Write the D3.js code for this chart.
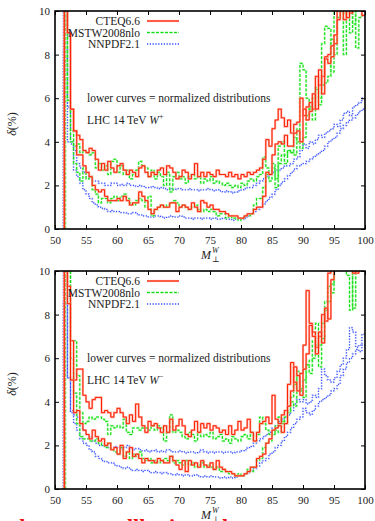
<!DOCTYPE html>
<html>
<head>
<meta charset="utf-8">
<script src="https://cdn.jsdelivr.net/npm/d3@7"></script>
<style>
html, body { margin: 0; padding: 0; background: #fff; }
svg { display: block; }
svg text { font-family: "Liberation Serif", "Times New Roman", "DejaVu Serif", "Noto Serif", serif !important; fill: #222; }
</style>
</head>
<body>
<svg width="375" height="521"></svg>
<script>
// bins are 0.5 GeV wide, first bin starts at 51.5 GeV
const binStart = 51.5;
const binWidth = 0.5;
const xTicks = [50, 55, 60, 65, 70, 75, 80, 85, 90, 95, 100];
const yTicks = [0, 2, 4, 6, 8, 10];
const pdfNames = ["CTEQ6.6", "MSTW2008nlo", "NNPDF2.1"];

// ---- W+ ----
const wpCteqUpper = [
  12, 9.0, 5.5, 4.5, 4.3, 4.1, 3.6, 3.5, 3.7, 3.6,
  3.2, 2.7, 3.0, 2.7, 3.1, 2.8, 2.6, 2.9, 3.0, 2.7,
  2.5, 2.7, 2.6, 2.4, 2.8, 2.9, 2.6, 2.4, 2.6, 2.5,
  2.7, 2.8, 2.5, 2.9, 2.8, 2.6, 2.3, 2.4, 2.7, 2.6,
  2.3, 2.5, 3.0, 2.4, 2.6, 2.4, 2.6, 2.5, 2.4, 2.7,
  2.5, 2.5, 2.4, 2.6, 2.4, 2.5, 2.3, 2.5, 2.4, 2.6,
  2.5, 2.6, 2.7, 2.8, 3.2, 4.1, 3.8, 4.6, 5.0, 5.5,
  5.1, 4.7, 5.0, 4.4, 4.8, 4.9, 6.0, 5.2, 5.6, 5.8,
  5.5, 7.0, 6.6, 7.0, 7.8, 7.6, 7.9, 8.5, 10.3, 10.5,
  9.6, 10.4, 9.9, 10.4, 10.2, 10.4, 9.8
];
const wpCteqLower = [
  12, 9.0, 5.5, 4.5, 3.4, 3.4, 2.9, 2.6, 2.4, 2.0,
  1.8, 1.7, 1.8, 1.5, 1.3, 1.3, 1.3, 1.4, 1.3, 1.5,
  1.3, 1.1, 1.2, 1.2, 1.7, 1.5, 1.3, 0.9, 0.7, 0.9,
  1.0, 1.1, 1.0, 1.0, 1.2, 1.2, 0.8, 1.0, 1.1, 1.0,
  0.9, 1.2, 1.0, 0.8, 1.3, 1.2, 1.0, 1.1, 0.9, 0.9,
  0.8, 0.8, 0.7, 0.6, 0.6, 0.6, 0.5, 0.5, 0.6, 0.7,
  0.7, 0.9, 1.0, 1.0, 1.5, 2.6, 2.5, 3.4, 3.9, 4.0,
  3.9, 4.3, 3.8, 3.8, 4.4, 4.5, 4.0, 5.5, 5.0, 5.4,
  6.2, 5.5, 7.3, 6.2, 7.9, 8.0, 8.4, 8.9, 9.6, 10.5,
  10.3, 9.7, 10.5, 10.4, 10.5, 10.3, 10.4
];
const wpMstwUpper = [
  12, 5.9, 4.5, 3.8, 3.9, 3.5, 3.6, 3.5, 3.4, 3.5,
  2.8, 3.0, 2.7, 2.9, 2.5, 3.1, 3.2, 2.6, 2.9, 2.5,
  2.7, 2.3, 2.5, 2.7, 3.1, 2.9, 2.8, 2.4, 2.7, 2.3,
  2.6, 2.4, 2.0, 2.6, 1.7, 2.4, 2.6, 2.3, 2.4, 2.1,
  2.4, 2.5, 2.3, 2.4, 2.1, 2.3, 2.2, 2.4, 2.1, 2.2,
  2.1, 2.0, 2.1, 2.0, 1.9, 2.0, 1.9, 2.1, 2.0, 2.2,
  2.3, 2.2, 2.4, 2.5, 3.3, 2.8, 2.6, 3.0, 1.9, 3.8,
  4.0, 3.4, 3.6, 3.5, 4.2, 4.0, 7.6, 7.3, 6.0, 5.5,
  6.0, 6.4, 6.0, 8.5, 9.3, 9.2, 7.2, 10.4, 10.5, 10.3,
  8.0, 10.2, 9.0, 10.1, 8.3, 9.7, 10.4
];
const wpMstwLower = [
  12, 5.9, 4.0, 3.0, 2.6, 2.2, 2.8, 2.3, 2.4, 1.8,
  1.6, 1.2, 1.4, 1.4, 1.2, 1.4, 1.5, 1.3, 1.5, 1.6,
  1.4, 1.2, 1.1, 1.3, 1.4, 1.3, 1.0, 1.5, 0.6, 0.9,
  1.0, 1.1, 1.0, 1.1, 1.2, 1.3, 1.2, 1.0, 1.1, 1.0,
  0.9, 1.0, 1.1, 0.9, 0.8, 0.9, 0.8, 0.9, 0.8, 0.6,
  0.7, 0.7, 0.5, 0.6, 0.5, 0.5, 0.4, 0.5, 0.6, 0.6,
  0.7, 1.1, 1.4, 1.4, 1.9, 2.5, 2.2, 2.8, 2.3, 3.0,
  3.4, 3.0, 3.6, 3.5, 3.4, 4.6, 3.7, 4.2, 5.2, 5.6,
  5.0, 6.5, 5.7, 6.6, 6.7, 7.0, 8.7, 8.0, 9.7, 10.4,
  9.9, 10.3, 10.4, 9.4, 10.3, 10.4, 10.5
];
const wpNnpdfUpper = [
  12, 5.6, 4.0, 3.6, 3.0, 2.8, 2.6, 2.4, 2.3, 2.2,
  2.2, 2.1, 2.1, 2.0, 2.0, 2.1, 2.1, 2.0, 2.05, 2.0,
  2.1, 2.0, 2.0, 1.95, 2.0, 1.95, 1.9, 1.9, 1.95, 1.9,
  1.85, 1.9, 1.85, 1.8, 1.85, 1.8, 1.85, 1.85, 1.8, 1.8,
  1.85, 1.8, 1.8, 1.75, 1.8, 1.8, 1.85, 1.8, 1.75, 1.8,
  1.75, 1.7, 1.75, 1.7, 1.65, 1.7, 1.75, 1.8, 1.85, 1.9,
  1.9, 2.0, 2.1, 2.2, 2.3, 2.4, 2.5, 2.6, 2.7, 2.7,
  2.8, 2.9, 2.9, 3.0, 3.2, 3.3, 3.6, 3.9, 3.7, 4.0,
  3.9, 4.1, 4.3, 4.2, 4.4, 4.5, 4.6, 4.8, 4.7, 5.0,
  5.3, 5.4, 5.2, 5.6, 5.7, 5.8, 6.0
];
const wpNnpdfLower = [
  8.2, 4.0, 3.9, 2.7, 2.4, 2.1, 1.8, 1.6, 1.4, 1.2,
  1.1, 1.0, 0.95, 0.9, 0.8, 0.85, 0.8, 0.8, 0.75, 0.75,
  0.7, 0.7, 0.75, 0.7, 0.65, 0.6, 0.6, 0.55, 0.55, 0.6,
  0.6, 0.55, 0.5, 0.55, 0.6, 0.55, 0.55, 0.6, 0.55, 0.5,
  0.5, 0.45, 0.5, 0.5, 0.45, 0.5, 0.5, 0.45, 0.5, 0.45,
  0.45, 0.5, 0.45, 0.45, 0.4, 0.45, 0.45, 0.45, 0.5, 0.6,
  0.7, 0.8, 0.9, 1.0, 1.15, 1.3, 1.45, 1.6, 1.8, 2.0,
  2.15, 2.3, 2.45, 2.6, 2.75, 2.9, 2.95, 3.0, 3.1, 3.2,
  3.3, 3.4, 3.5, 3.6, 3.8, 4.0, 4.1, 4.2, 4.4, 4.6,
  4.75, 4.9, 5.0, 5.1, 5.25, 5.4, 5.5
];

// ---- W- ----
const wmCteqUpper = [
  12, 9.3, 6.8, 5.0, 5.5, 5.5, 4.3, 4.0, 3.7, 4.1,
  4.2, 4.2, 3.5, 3.6, 3.5, 3.3, 3.5, 3.7, 3.5, 3.3,
  3.0, 3.4, 3.1, 3.9, 3.3, 2.9, 2.6, 3.1, 2.9, 3.0,
  2.8, 2.6, 2.9, 2.6, 3.2, 2.7, 2.9, 3.2, 2.9, 2.5,
  2.4, 2.7, 3.1, 2.6, 3.0, 2.8, 3.0, 2.7, 2.9, 2.8,
  2.6, 2.7, 2.5, 2.9, 2.5, 2.7, 3.1, 2.7, 2.8, 3.2,
  2.6, 2.2, 2.6, 3.0, 3.1, 3.3, 3.0, 4.3, 3.2, 3.0,
  3.4, 3.6, 4.8, 5.8, 4.9, 4.5, 5.3, 6.6, 9.1, 7.6,
  7.2, 6.5, 7.0, 8.0, 7.7, 9.9, 10.5, 10.5, 10.4, 10.6,
  10.3, 10.5, 10.4, 10.5, 9.9, 10.5, 10.4
];
const wmCteqLower = [
  12, 8.5, 5.0, 3.5, 3.6, 3.0, 2.7, 2.5, 2.3, 2.7,
  2.4, 2.2, 2.3, 2.0, 2.1, 1.8, 1.9, 1.6, 2.0, 1.4,
  1.7, 1.9, 1.5, 1.6, 1.4, 1.2, 1.4, 1.3, 1.3, 1.2,
  1.4, 1.3, 1.2, 1.2, 1.5, 1.3, 1.1, 0.9, 1.3, 0.8,
  1.3, 1.1, 1.2, 1.0, 1.3, 1.1, 1.0, 1.2, 0.9, 1.3,
  1.0, 0.9, 0.8, 0.8, 0.7, 0.6, 0.6, 0.6, 0.7, 0.8,
  1.0, 1.0, 1.4, 1.5, 1.6, 2.1, 2.3, 2.7, 2.8, 2.9,
  2.6, 3.0, 3.8, 4.5, 5.6, 5.2, 4.3, 5.5, 6.2, 7.5,
  7.0, 6.2, 7.2, 6.7, 8.3, 7.8, 9.6, 10.4, 10.5, 10.3,
  10.5, 10.4, 10.5, 9.9, 10.4, 10.5, 10.4
];
const wmMstwUpper = [
  12, 12, 6.8, 6.8, 5.2, 3.5, 3.0, 3.1, 3.3, 3.2,
  3.3, 3.3, 3.2, 3.1, 2.5, 2.9, 2.8, 2.9, 2.8, 3.2,
  2.6, 2.5, 2.8, 2.8, 2.7, 2.8, 2.8, 2.7, 2.9, 2.7,
  2.9, 2.8, 2.2, 2.6, 3.4, 2.6, 2.7, 2.6, 2.4, 2.3,
  2.6, 2.5, 2.2, 2.6, 2.4, 2.5, 2.4, 2.6, 2.3, 2.4,
  2.5, 2.2, 2.3, 2.1, 2.4, 2.3, 2.2, 2.4, 2.5, 2.3,
  2.6, 2.2, 2.5, 3.3, 3.0, 2.7, 2.5, 2.6, 2.9, 3.3,
  3.1, 3.0, 3.5, 4.2, 4.8, 5.2, 4.6, 5.0, 5.7, 5.9,
  6.8, 6.6, 5.6, 7.6, 8.6, 9.3, 9.0, 10.4, 10.5, 10.3,
  10.5, 9.8, 8.2, 10.4, 10.5, 10.3, 10.5
];
const wmMstwLower = [
  12, 12, 6.0, 4.4, 3.0, 2.4, 2.3, 2.3, 2.2, 2.2,
  2.3, 2.1, 2.0, 1.9, 2.1, 1.8, 1.7, 1.6, 1.9, 1.5,
  1.7, 1.4, 1.6, 1.5, 1.7, 1.4, 1.3, 1.4, 1.2, 1.3,
  1.2, 1.3, 1.4, 1.3, 1.5, 1.2, 1.3, 1.2, 1.1, 1.3,
  1.1, 1.2, 1.0, 1.1, 1.2, 1.0, 1.1, 1.0, 0.9, 1.0,
  0.8, 0.9, 0.8, 0.7, 0.7, 0.6, 0.7, 0.6, 0.7, 0.9,
  0.8, 1.0, 1.3, 1.4, 1.9, 2.1, 2.2, 2.5, 2.7, 2.6,
  3.0, 3.3, 3.6, 4.0, 3.8, 5.4, 4.5, 4.2, 5.7, 5.3,
  6.0, 7.6, 6.6, 6.9, 8.2, 8.6, 9.4, 10.4, 10.5, 10.2,
  10.4, 10.5, 10.3, 8.3, 10.4, 10.5, 10.4
];
const wmNnpdfUpper = [
  12, 5.1, 3.6, 3.4, 3.3, 2.9, 2.7, 2.5, 2.4, 2.2,
  2.1, 2.0, 2.0, 1.95, 1.9, 1.9, 1.95, 1.9, 1.85, 1.9,
  2.0, 1.85, 1.8, 1.85, 1.8, 1.75, 1.8, 1.7, 1.75, 1.8,
  1.7, 1.75, 1.7, 1.8, 1.75, 1.7, 1.7, 1.75, 1.7, 1.65,
  1.7, 1.7, 1.65, 1.7, 1.8, 1.7, 1.65, 1.7, 1.65, 1.7,
  1.7, 1.65, 1.7, 1.7, 1.65, 1.7, 1.7, 1.75, 1.8, 1.9,
  1.95, 2.1, 2.2, 2.3, 2.4, 2.5, 2.6, 2.8, 2.9, 3.1,
  3.2, 3.3, 3.4, 3.6, 3.9, 4.1, 4.0, 4.1, 3.9, 4.0,
  4.3, 4.2, 4.6, 5.5, 5.2, 5.0, 4.9, 5.1, 5.4, 5.7,
  6.0, 6.4, 7.4, 7.2, 6.5, 6.6, 7.1
];
const wmNnpdfLower = [
  8.5, 5.1, 3.5, 3.0, 2.7, 2.3, 2.1, 2.0, 1.8, 1.7,
  1.5, 1.4, 1.3, 1.25, 1.2, 1.2, 1.1, 1.05, 1.0, 0.95,
  1.0, 0.9, 0.85, 0.9, 0.85, 0.8, 0.85, 0.8, 0.75, 0.8,
  0.75, 0.7, 0.75, 0.7, 0.7, 0.65, 0.7, 0.65, 0.6, 0.65,
  0.6, 0.6, 0.65, 0.6, 0.55, 0.6, 0.55, 0.6, 0.55, 0.55,
  0.5, 0.55, 0.5, 0.55, 0.5, 0.55, 0.6, 0.6, 0.7, 0.75,
  0.85, 0.95, 1.05, 1.2, 1.3, 1.4, 1.6, 1.7, 1.9, 2.0,
  2.2, 2.4, 2.6, 2.8, 3.0, 3.2, 3.3, 3.7, 3.5, 3.4,
  3.6, 3.8, 4.0, 4.1, 4.2, 4.3, 4.5, 4.6, 4.8, 5.2,
  5.5, 5.8, 6.0, 6.2, 6.4, 6.3, 6.6
];

const styles = {
  "CTEQ6.6": { color: "#ff2000", halo: "#ff9a8c", dash: null, shift: 0 },
  "MSTW2008nlo": { color: "#10dd10", halo: "#9af59a", dash: "3,1.5", shift: 0.15 },
  "NNPDF2.1": { color: "#2a44ff", halo: "#a8b4ff", dash: "1.2,1.6", shift: -0.15 }
};

const panels = [
  { top: 11, charge: "+", series: [
    ["NNPDF2.1", wpNnpdfUpper], ["NNPDF2.1", wpNnpdfLower],
    ["MSTW2008nlo", wpMstwUpper], ["MSTW2008nlo", wpMstwLower],
    ["CTEQ6.6", wpCteqUpper], ["CTEQ6.6", wpCteqLower]] },
  { top: 271, charge: "\u2212", series: [
    ["NNPDF2.1", wmNnpdfUpper], ["NNPDF2.1", wmNnpdfLower],
    ["MSTW2008nlo", wmMstwUpper], ["MSTW2008nlo", wmMstwLower],
    ["CTEQ6.6", wmCteqUpper], ["CTEQ6.6", wmCteqLower]] }
];

const svg = d3.select("svg");
const left = 55, right = 365, plotH = 218;
const x = d3.scaleLinear().domain([50, 100]).range([left, right]);
const serif = "Liberation Serif, Times New Roman, DejaVu Serif, serif";

panels.forEach((p, pi) => {
  const bottom = p.top + plotH;
  const y = d3.scaleLinear().domain([0, 10]).range([bottom, p.top]);
  const g = svg.append("g");

  const clipId = "clip" + pi;
  g.append("clipPath").attr("id", clipId)
    .append("rect").attr("x", left).attr("y", p.top)
    .attr("width", right - left).attr("height", plotH);

  const line = d3.line()
    .x(d => x(d[0]))
    .y(d => y(d[1]))
    .curve(d3.curveStepAfter);

  const curves = g.append("g").attr("clip-path", `url(#${clipId})`);
  p.series.forEach(([name, vals]) => {
    const s = styles[name];
    // the first edge of each set sits a little apart so the rising lines show side by side
    const pts = [[binStart + s.shift, 0], [binStart + s.shift, vals[0]]].concat(
      vals.slice(1).map((v, i) => [binStart + (i + 1) * binWidth, v]),
      [[100, vals[vals.length - 1]]]);
    curves.append("path").attr("d", line(pts))
      .attr("fill", "none").attr("stroke", s.halo)
      .attr("stroke-width", 2.2).attr("stroke-opacity", 0.75)
      .attr("stroke-dasharray", s.dash);
    curves.append("path").attr("d", line(pts))
      .attr("fill", "none").attr("stroke", s.color)
      .attr("stroke-width", 1)
      .attr("stroke-dasharray", s.dash);
  });

  // axes with inward ticks on all sides
  const styleAxis = sel => {
    sel.attr("font-size", 11).attr("font-family", serif);
    sel.select(".domain").remove();
    sel.selectAll(".tick line").attr("stroke", "#000").attr("stroke-width", 1);
    sel.selectAll(".tick text").attr("fill", "#222");
  };
  g.append("g").attr("transform", `translate(0,${bottom})`)
    .call(d3.axisBottom(x).tickValues(xTicks).tickSize(-4).tickPadding(7))
    .call(styleAxis);
  g.append("g").attr("transform", `translate(0,${p.top})`)
    .call(d3.axisTop(x).tickValues(xTicks).tickSize(-4).tickFormat(""))
    .call(styleAxis);
  g.append("g").attr("transform", `translate(${left},0)`)
    .call(d3.axisLeft(y).tickValues(yTicks).tickSize(-4).tickPadding(5))
    .call(styleAxis);
  g.append("g").attr("transform", `translate(${right},0)`)
    .call(d3.axisRight(y).tickValues(yTicks).tickSize(-4).tickFormat(""))
    .call(styleAxis);

  g.append("rect").attr("x", left).attr("y", p.top)
    .attr("width", right - left).attr("height", plotH)
    .attr("fill", "none").attr("stroke", "#000").attr("stroke-width", 1.6);

  // legend
  pdfNames.forEach((name, i) => {
    const ly = p.top + 10 + i * 11.5;
    const s = styles[name];
    g.append("text").attr("x", 140).attr("y", ly + 4)
      .attr("text-anchor", "end").attr("font-size", 11.5).text(name);
    g.append("line").attr("x1", 147).attr("x2", 179).attr("y1", ly).attr("y2", ly)
      .attr("stroke", s.halo).attr("stroke-width", 2.2).attr("stroke-dasharray", s.dash);
    g.append("line").attr("x1", 147).attr("x2", 179).attr("y1", ly).attr("y2", ly)
      .attr("stroke", s.color).attr("stroke-width", 1).attr("stroke-dasharray", s.dash);
  });

  g.append("text").attr("x", 87).attr("y", p.top + 91)
    .attr("font-size", 11.5).text("lower curves = normalized distributions");
  const lhc = g.append("text").attr("x", 87).attr("y", p.top + 113).attr("font-size", 11.5);
  lhc.append("tspan").text("LHC 14 TeV ");
  lhc.append("tspan").attr("font-style", "italic").text("W");
  lhc.append("tspan").attr("dy", -5).attr("font-size", 8).text(p.charge);

  // axis titles
  const yl = g.append("text")
    .attr("transform", `translate(16,${p.top + 113}) rotate(-90)`)
    .attr("text-anchor", "middle").attr("font-size", 12);
  yl.append("tspan").attr("font-style", "italic").text("\u03b4");
  yl.append("tspan").text("(%)");

  const xl = g.append("g").attr("transform", `translate(201,${bottom + 30})`);
  xl.append("text").attr("font-size", 12).attr("font-style", "italic").text("M");
  xl.append("text").attr("x", 11).attr("y", -6).attr("font-size", 8)
    .attr("font-style", "italic").text("W");
  xl.append("text").attr("x", 11).attr("y", 3).attr("font-size", 8).text("\u22a5");
});

// red caption cut off by the bottom edge of the picture
const caption = [[12, "th"], [127, "lll"], [169, "i"], [222, "l"]];
svg.selectAll(".cap").data(caption).join("text")
  .attr("class", "cap")
  .attr("x", d => d[0]).attr("y", 534)
  .attr("font-size", 22).attr("font-weight", "bold")
  .style("fill", "#ee1111")
  .text(d => d[1]);
</script>
</body>
</html>
